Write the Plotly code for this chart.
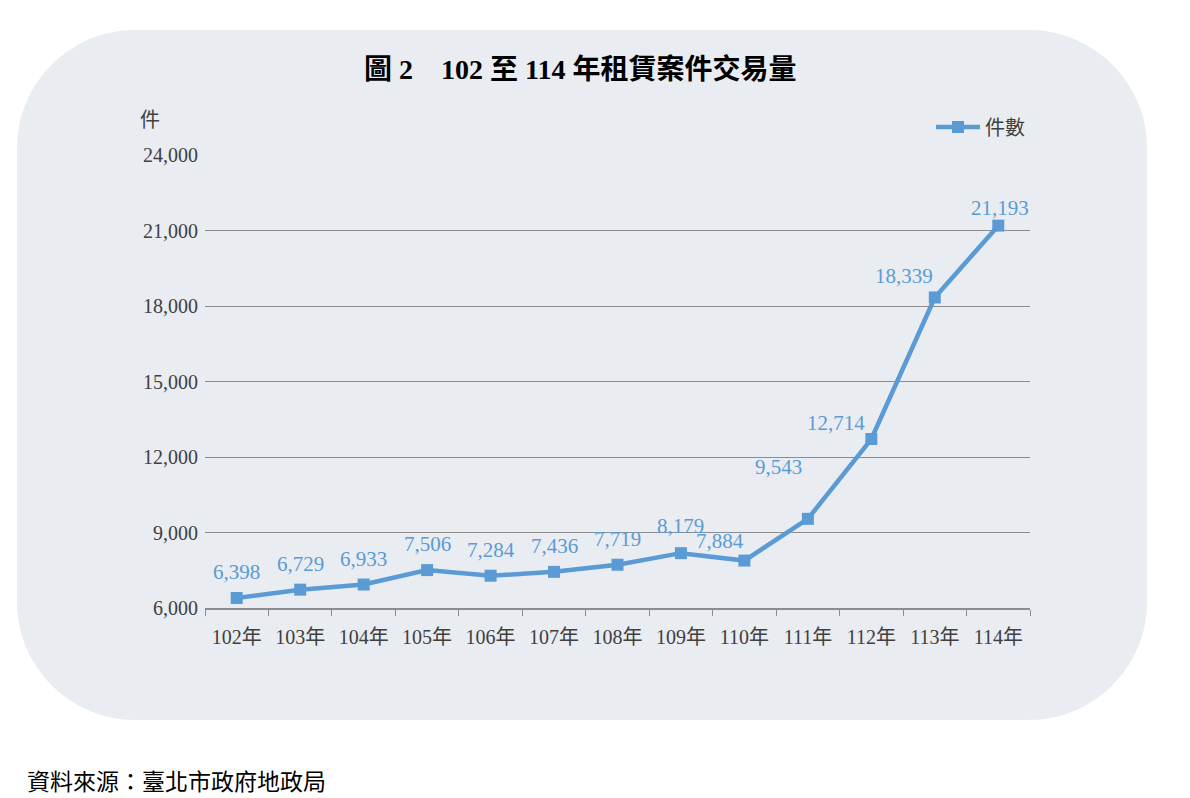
import plotly.graph_objects as go

years = ["102年", "103年", "104年", "105年", "106年", "107年", "108年", "109年", "110年", "111年", "112年", "113年", "114年"]
counts = [6398, 6729, 6933, 7506, 7284, 7436, 7719, 8179, 7884, 9543, 12714, 18339, 21193]
y_ticks = [6000, 9000, 12000, 15000, 18000, 21000, 24000]

# label offsets (pixels) — styling
label_dx = [0, 0, 0, 0, 0, 0, 0, 0, -24, -29, -35, -31, 2]
label_dy = [26, 26, 26, 26, 26, 26, 26, 27, 20, 52, 16, 21, 18]

BLUE = "#5B9BD5"
SERIF = "Liberation Serif, Times New Roman, Noto Sans CJK TC, serif"

L, R, T, B = 205, 1030, 155, 608
W, H = 1190, 798

def px(x):
    return (x - L) / (R - L)

def py(y):
    return (B - y) / (B - T)

fig = go.Figure()
fig.add_trace(go.Scatter(
    x=years, y=counts, mode="lines+markers", name="件數",
    line=dict(color=BLUE, width=4.5),
    marker=dict(symbol="square", size=12, color=BLUE),
))

for xv, yv, dx, dy in zip(years, counts, label_dx, label_dy):
    fig.add_annotation(x=xv, y=yv, text=f"{yv:,}", showarrow=False,
                       xshift=dx, yshift=dy, xanchor="center", yanchor="middle",
                       font=dict(family=SERIF, size=21, color=BLUE))

# rounded background
x0, x1, y0, y1, r = 17, 1147, 30, 720, 118
k = 0.45
pts = [
    ("M", [(x0 + r, y0)]),
    ("L", [(x1 - r, y0)]),
    ("C", [(x1 - r * k, y0), (x1, y0 + r * k), (x1, y0 + r)]),
    ("L", [(x1, y1 - r)]),
    ("C", [(x1, y1 - r * k), (x1 - r * k, y1), (x1 - r, y1)]),
    ("L", [(x0 + r, y1)]),
    ("C", [(x0 + r * k, y1), (x0, y1 - r * k), (x0, y1 - r)]),
    ("L", [(x0, y0 + r)]),
    ("C", [(x0, y0 + r * k), (x0 + r * k, y0), (x0 + r, y0)]),
]
path = ""
for cmd, ps in pts:
    path += cmd + " " + " ".join(f"{px(a):.5f},{py(b):.5f}" for a, b in ps) + " "
path += "Z"
fig.add_shape(type="path", path=path, xref="paper", yref="paper",
              fillcolor="#E9ECF1", line=dict(width=0), layer="below")

fig.add_annotation(x=px(580), y=py(70), xref="paper", yref="paper",
                   xanchor="center", yanchor="middle",
                   text="<b>圖 2　102 至 114 年租賃案件交易量</b>", showarrow=False,
                   font=dict(family=SERIF, size=28, color="#000000"))
fig.add_annotation(x=px(150), y=py(120), xref="paper", yref="paper",
                   xanchor="center", yanchor="middle",
                   text="件", showarrow=False,
                   font=dict(family=SERIF, size=20, color="#404040"))
fig.add_annotation(x=px(25), y=py(782), xref="paper", yref="paper",
                   xanchor="left", yanchor="middle",
                   text="資料來源：臺北市政府地政局", showarrow=False,
                   font=dict(family=SERIF, size=23, color="#000000"))

fig.update_layout(
    width=W, height=H,
    margin=dict(l=L, r=W - R, t=T, b=H - B),
    paper_bgcolor="white", plot_bgcolor="rgba(0,0,0,0)",
    showlegend=True,
    legend=dict(x=1.0, y=py(127), xanchor="right", yanchor="middle",
                bgcolor="rgba(0,0,0,0)", font=dict(family=SERIF, size=20, color="#404040"),
                itemwidth=44),
    font=dict(family=SERIF, color="#404040"),
)
fig.update_xaxes(
    type="category", range=[-0.5, 12.5], showgrid=False, showline=True,
    linecolor="#8C8C8C", linewidth=1.5,
    ticks="outside", tickson="boundaries", ticklen=6, tickcolor="#8C8C8C",
    ticklabelstandoff=10,
    tickfont=dict(family=SERIF, size=20, color="#404040"),
)
fig.update_yaxes(
    range=[6000, 24000], tickvals=y_ticks, ticktext=[f"{v:,}" for v in y_ticks],
    showgrid=True, gridcolor="#8C8C8C", gridwidth=1.2, zeroline=False, showline=False,
    ticks="", ticklen=0, ticklabelstandoff=6,
    tickfont=dict(family=SERIF, size=20, color="#404040"),
)

fig.write_html("out.html")
